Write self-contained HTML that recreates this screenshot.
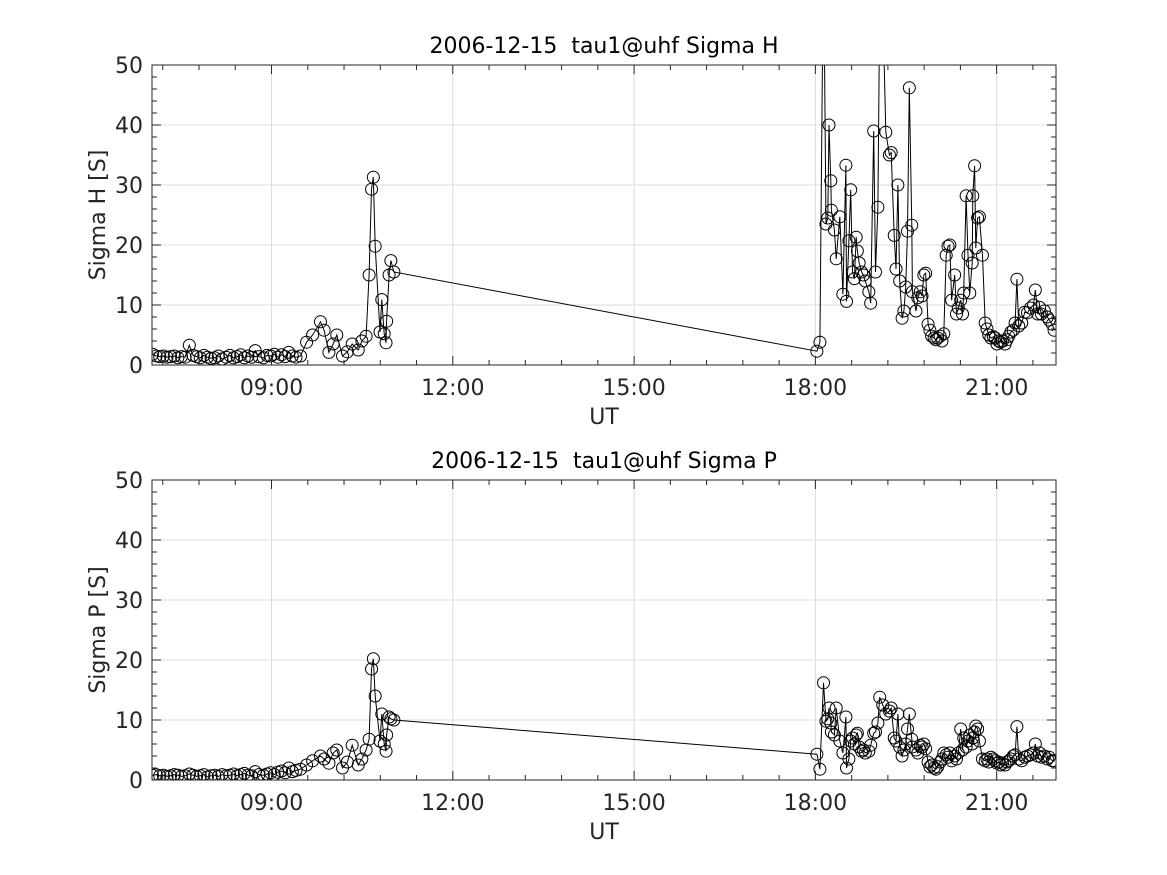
<!DOCTYPE html>
<html><head><meta charset="utf-8"><style>
body{margin:0;background:#fff;}
svg{display:block;font-family:"DejaVu Sans","Liberation Sans",sans-serif;}
</style></head><body>
<svg id="fig" width="1167" height="875" xmlns="http://www.w3.org/2000/svg"></svg>
<script>
const times=[7.03,7.09,7.15,7.21,7.27,7.33,7.39,7.45,7.51,7.57,
7.64,7.70,7.76,7.82,7.88,7.94,8.00,8.06,8.12,8.18,
8.25,8.31,8.37,8.43,8.49,8.55,8.61,8.67,8.73,8.79,
8.865,8.925,8.985,9.045,9.105,9.165,9.225,9.285,9.345,9.405,
9.48,9.58,9.68,9.81,9.87,9.95,10.02,10.08,10.175,10.255,10.335,10.435,10.495,10.565,
10.615,10.655,10.685,10.715,10.795,10.825,10.865,10.895,10.905,10.945,10.975,11.025,
18.025,18.075,18.135,18.175,18.205,18.225,18.255,18.265,18.315,18.345,
18.405,18.455,18.505,18.515,18.555,18.585,18.615,18.645,18.675,18.695,
18.725,18.765,18.795,18.825,18.885,18.915,18.965,18.995,19.035,19.065,
19.115,19.165,19.225,19.255,19.305,19.335,19.365,19.395,19.435,19.465,
19.495,19.525,19.555,19.595,19.605,19.665,19.695,19.735,19.765,19.795,
19.825,19.865,19.895,19.925,19.965,19.995,20.025,20.065,20.095,20.125,
20.165,20.195,20.225,20.255,20.305,20.335,20.365,20.405,20.435,20.455,
20.495,20.525,20.555,20.595,20.605,20.635,20.655,20.685,20.715,20.765,
20.81,20.84,20.87,20.905,20.945,20.975,21.005,21.035,21.065,21.095,
21.14,21.17,21.20,21.235,21.275,21.305,21.335,21.365,21.415,21.465,
21.51,21.56,21.61,21.64,21.68,21.71,21.74,21.79,21.84,21.87,21.92,21.95];
const sigmaH=[1.8,1.5,1.4,1.5,1.3,1.4,1.5,1.2,1.4,1.3,3.3,1.6,1.4,1.2,1.6,1.3,1.1,1.2,1.5,1.0,1.3,1.6,1.2,1.4,1.7,1.2,1.5,1.3,2.4,1.4,1.2,1.6,1.5,1.8,1.3,1.7,1.4,2.1,1.5,1.3,
1.5,3.8,5.0,7.2,5.8,2.1,3.5,5.0,1.5,2.2,3.5,2.5,4.0,4.8,
15.0,29.3,31.3,19.8,5.5,10.9,5.2,3.7,7.3,15.0,17.4,15.5,
2.3,3.8,70,23.5,24.5,40,30.7,25.8,22.5,17.7,
24.7,11.8,33.3,10.6,20.7,29.2,15.5,14.4,21.3,19,
17,15.5,15,14,12.2,10.3,39,15.5,26.3,60,
60,38.8,35,35.4,21.6,16,30,14,7.8,9,
13,22.3,46.2,23.3,12.2,9,11.2,12.2,11.5,15,
15.3,6.8,5.8,4.8,4.5,4.2,4.5,4.8,4,5.2,
18.3,19.8,20,10.8,15,8.5,9.5,10.8,8.5,12,
28.2,18.3,12,17,28.2,33.2,19.5,24.5,24.7,18.3,
7,6,5,4.5,4.7,4.5,3.5,4,3.8,4,
3.5,4.2,4.8,5.5,5.8,7,14.3,6.5,7,8.8,
8.7,9.5,10,12.5,8.5,9.6,8.5,9,8,7.5,6.8,5.8];
const sigmaP=[0.8,0.9,0.7,0.8,0.6,0.7,0.9,0.8,0.6,0.7,1.0,0.8,0.6,0.7,0.9,0.5,0.7,0.8,0.6,0.9,0.7,0.8,1.0,0.7,0.9,1.1,0.8,0.7,1.4,0.9,0.8,1.0,1.2,0.9,1.3,1.5,1.2,2.0,1.4,1.6,
1.8,2.5,3.2,4.0,3.5,2.8,4.5,5.0,2.0,3.0,5.8,2.5,3.5,5.0,
6.8,18.5,20.2,14.0,6.5,11.0,6.0,4.8,7.5,10.5,10.2,10.0,
4.3,1.8,16.2,9.8,10.2,12,9.5,8,7.5,12,
6.5,4.5,10.5,2.0,3.5,6.5,7,6,7.5,7.8,
5.5,4.8,5,4.5,4.8,5.8,7.8,8,9.5,13.8,
12.5,11,11.5,12,7,6.5,11,5.5,4,5,
6,8.5,11,6.8,5.5,5,4.5,5.8,5.5,6,
5.2,3,2.2,2.5,2,1.8,2.2,3,3.5,4.5,
4.2,3.8,4.5,3.2,4,3.5,4.5,8.5,5,7,
5.5,6.5,7.5,6,7,8,9,8.5,6.5,3.5,
3.2,3.5,3,3.8,3.5,3.2,2.8,3,2.5,2.8,
2.5,3,3.2,3.5,4,4.2,8.9,3.5,3.2,3.8,
4,4.2,4.5,6,4,4.5,3.8,4,3.5,3.8,3.2,3.2];
const xTicks=[9,12,15,18,21];
const xTickLabels=["09:00","12:00","15:00","18:00","21:00"];
const yTicks=[0,10,20,30,40,50];

const NS="http://www.w3.org/2000/svg";
const svg=document.getElementById('fig');
function mk(tag,attrs,parent){const e=document.createElementNS(NS,tag);for(const k in attrs)e.setAttribute(k,attrs[k]);(parent||svg).appendChild(e);return e;}
const L=152,R=1056,tMin=7.022,tMax=21.982;
function xs(t){return L+(t-tMin)/(tMax-tMin)*(R-L);}

function panel(top,bottom,vals,title,ylab,key){
  const g=mk('g',{});
  
  
  const ys=v=>bottom-v/50*(bottom-top);
  mk('rect',{x:L,y:top,width:R-L,height:bottom-top,fill:'#fff'},g);
  xTicks.forEach(t=>{const l=mk('line',{x1:xs(t),x2:xs(t),y1:top,y2:bottom,stroke:'#dcdcdc','stroke-width':1},g);});
  yTicks.forEach(v=>{const l=mk('line',{x1:L,x2:R,y1:ys(v),y2:ys(v),stroke:'#dcdcdc','stroke-width':1},g);});
  const cid='clip'+key;
  const cp=mk('clipPath',{id:cid},g);mk('rect',{x:L,y:top,width:R-L,height:bottom-top},cp);
  const dg=mk('g',{'clip-path':'url(#'+cid+')'},g);
  
  
  const pts=times.map((t,i)=>xs(t).toFixed(1)+','+ys(vals[i]).toFixed(1)).join(' ');
  const pl=mk('polyline',{points:pts,fill:'none',stroke:'#000','stroke-width':1},dg);
  
  
  times.forEach((t,i)=>{const c=mk('circle',{cx:xs(t),cy:ys(vals[i]),r:6,fill:'none',stroke:'#000','stroke-width':1},dg);
    
    });
  const tk=[];
  for(let t=6;t<=tMax;t+=0.6){if(t>=tMin)tk.push(t);}
  tk.forEach(t=>{const major=xTicks.some(m=>Math.abs(m-t)<1e-6);const len=major?9:5;
    mk('line',{x1:xs(t),x2:xs(t),y1:bottom,y2:bottom-len,stroke:'#262626'},g);
    mk('line',{x1:xs(t),x2:xs(t),y1:top,y2:top+len,stroke:'#262626'},g);});
  for(let v=0;v<=50;v+=2){const major=v%10==0;const len=major?9:5;
    mk('line',{x1:L,x2:L+len,y1:ys(v),y2:ys(v),stroke:'#262626'},g);
    mk('line',{x1:R,x2:R-len,y1:ys(v),y2:ys(v),stroke:'#262626'},g);}
  mk('rect',{x:L,y:top,width:R-L,height:bottom-top,fill:'none',stroke:'#262626','stroke-width':1},g);
  xTicks.forEach((t,i)=>{const e=mk('text',{x:xs(t),y:bottom+30,'font-size':22,'text-anchor':'middle',fill:'#262626'},g);e.textContent=xTickLabels[i];
    });
  yTicks.forEach(v=>{const e=mk('text',{x:L-9,y:ys(v)+8,'font-size':22,'text-anchor':'end',fill:'#262626'},g);e.textContent=v;
    });
  const tt=mk('text',{x:(L+R)/2,y:top-12,'font-size':22,'text-anchor':'middle',fill:'#000'},g);tt.textContent=title;
  tt.setAttribute('style','white-space:pre');
  
  const xl=mk('text',{x:(L+R)/2,y:bottom+59,'font-size':22,'text-anchor':'middle',fill:'#262626'},g);xl.textContent='UT';
  
  const yl=mk('text',{x:0,y:0,'font-size':22,'text-anchor':'middle',fill:'#262626',transform:`translate(105,${(top+bottom)/2}) rotate(-90)`},g);yl.textContent=ylab;
  
}
panel(65,365,sigmaH,'2006-12-15  tau1@uhf Sigma H','Sigma H [S]','sigma-h');
panel(480,780,sigmaP,'2006-12-15  tau1@uhf Sigma P','Sigma P [S]','sigma-p');
</script>
</body></html>
